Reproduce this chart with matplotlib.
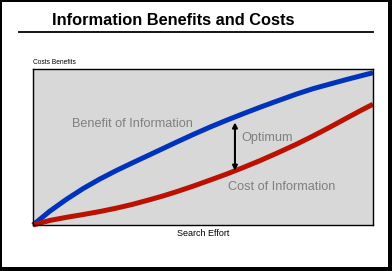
import matplotlib.pyplot as plt
import numpy as np
from matplotlib.patches import Rectangle
from matplotlib.lines import Line2D

# search effort (0-100) and curves
effort = [0, 4.9, 9.8, 14.7, 19.6, 24.5, 29.4, 34.3, 38.2, 42.3, 47.1,
          52.1, 57.0, 61.9, 66.8, 71.7, 77.6, 82.4, 87.4, 92.3, 97.1, 100]
benefit = [0, 8.8, 16.4, 23.3, 29.4, 34.9, 40.0, 45.0, 49.0, 53.2, 58.0,
           62.8, 67.2, 71.4, 75.5, 79.4, 84.0, 87.4, 90.4, 93.3, 96.0, 97.6]
cost = [0, 2.9, 4.9, 6.7, 8.6, 10.8, 13.3, 16.2, 18.6, 21.4, 24.9,
        28.8, 32.7, 36.9, 41.3, 46.0, 51.9, 57.1, 62.8, 68.6, 74.2, 77.4]
optimum_x = 59.4

W, H = 392, 271
fig = plt.figure(figsize=(W / 100, H / 100), dpi=100)
fig.patch.set_facecolor('white')

# frame round the slide (thin top/left, thick right/bottom)
for x0, y0, w, h in [(0, 0, 1.5, H), (0, H - 1.5, W, 1.5),
                     (W - 4, 0, 4, H), (0, 0, W, 4)]:
    fig.add_artist(Rectangle((x0 / W, y0 / H), w / W, h / H,
                             transform=fig.transFigure, color='black', lw=0))

# title and underline
fig.text(52 / W, 1 - 20.5 / H, 'Information Benefits and Costs', fontsize=11.8,
         fontweight='bold', family='Liberation Sans', va='center', ha='left')
fig.add_artist(Line2D([19 / W, 373 / W], [1 - 32 / H, 1 - 32 / H],
                      transform=fig.transFigure, color='black', lw=1.3))

ax = fig.add_axes([33 / W, 1 - 225 / H, 340 / W, 156 / H])
ax.set_facecolor('#d8d8d8')
ax.plot(effort, benefit, color='#0033bb', lw=3.6, solid_capstyle='butt', clip_on=False)
ax.plot(effort, cost, color='#bb1100', lw=3.6, solid_capstyle='butt', clip_on=False)
ax.set_xlim(0, 100)
ax.set_ylim(0, 100)
ax.set_xticks([])
ax.set_yticks([])
for s in ax.spines.values():
    s.set_linewidth(1)

# optimum arrow between the curves
yb = np.interp(optimum_x, effort, benefit)
yc = np.interp(optimum_x, effort, cost)
ax.annotate('', xy=(optimum_x, yb - 3.5), xytext=(optimum_x, yc),
            arrowprops=dict(arrowstyle='<|-|>', color='black', lw=1.5,
                            mutation_scale=7, shrinkA=0, shrinkB=0))

grey = '#7f7f7f'
ax.text((72 - 33) / 3.4, (225 - 124) / 1.56, 'Benefit of Information', color=grey,
        fontsize=9.1, family='Liberation Sans', va='center', ha='left')
ax.text((241 - 33) / 3.4, (225 - 138) / 1.56, 'Optimum', color=grey,
        fontsize=9.1, family='Liberation Sans', va='center', ha='left')
ax.text((228 - 33) / 3.4, (225 - 187) / 1.56, 'Cost of Information', color=grey,
        fontsize=9.1, family='Liberation Sans', va='center', ha='left')

fig.text(33 / W, 1 - 62 / H, 'Costs Benefits', fontsize=4.8,
         family='Liberation Sans', va='center', ha='left')
ax.set_xlabel('Search Effort', fontsize=6.5, family='Liberation Sans', labelpad=3)

fig.savefig('out.png', dpi=100)
